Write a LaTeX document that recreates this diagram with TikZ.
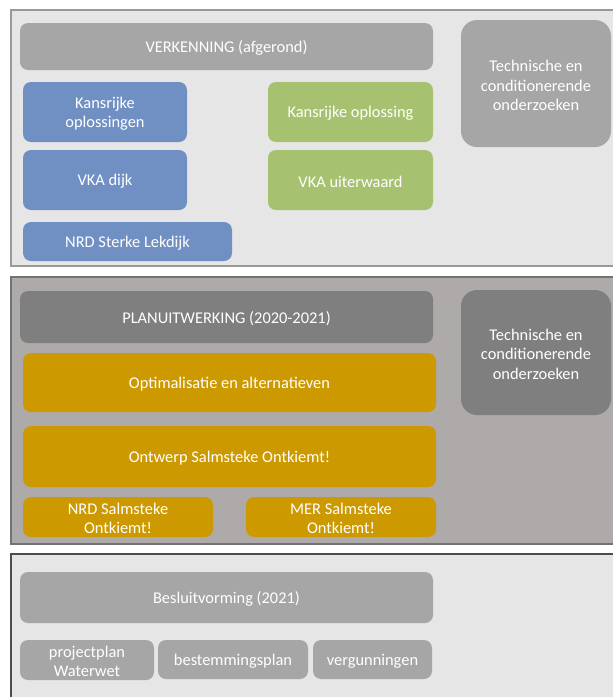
\documentclass[tikz,border=0pt]{standalone}
\usepackage{fontspec}
\setmainfont{Carlito}
\definecolor{panelA}{HTML}{E6E6E6}
\definecolor{panelB}{HTML}{AEAAAA}
\definecolor{greyA}{HTML}{A6A6A6}
\definecolor{greyB}{HTML}{7F7F7F}
\definecolor{blueBox}{HTML}{7090C4}
\definecolor{greenBox}{HTML}{A6C270}
\definecolor{goldBox}{HTML}{CC9900}
\begin{document}
\begin{tikzpicture}[x=1pt,y=-1pt,
  panel/.style={line width=1.2pt},
  box/.style={rounded corners=8pt, draw=none},
  lbl/.style={text=white, font=\fontsize{16.4}{19.5}\selectfont, align=center, inner sep=0pt, yshift=-1.5pt}]
\useasboundingbox (0,0) rectangle (613,697);
\fill[white] (0,0) rectangle (613,697);
% panels
\draw[panel, fill=panelA, draw=black!40] (11,10) rectangle (614,266);
\draw[panel, fill=panelB, draw=black!55] (11,277) rectangle (614,544);
\draw[panel, fill=panelA, draw=black!70] (11,554) rectangle (614,698);
% panel 1
\fill[box, greyA] (20,23) rectangle (433,70);
\node[lbl] (verk) at (226.5,46.5) {VERKENNING (afgerond)};
\fill[rounded corners=16pt, greyA] (461,20) rectangle (611,147);
\node[lbl] (tech1) at (536,84) {Technische en\\conditionerende\\onderzoeken};
\fill[box, blueBox] (23,82) rectangle (187,142);
\node[lbl] (kans1) at (105,112) {Kansrijke\\oplossingen};
\fill[box, blueBox] (23,150) rectangle (187,210);
\node[lbl] (vkad) at (105,180) {VKA dijk};
\fill[box, blueBox] (23,222) rectangle (232,261);
\node[lbl] (nrd1) at (127.5,241.5) {NRD Sterke Lekdijk};
\fill[box, greenBox] (268,82) rectangle (433,142);
\node[lbl] (kans2) at (350.5,112) {Kansrijke oplossing};
\fill[box, greenBox] (268,150) rectangle (433,210);
\node[lbl] (vkau) at (350.5,180) {VKA uiterwaard};
% panel 2
\fill[box, greyB] (20,291) rectangle (433,343);
\node[lbl] (plan) at (226.5,317) {PLANUITWERKING (2020-2021)};
\fill[rounded corners=16pt, greyB] (461,290) rectangle (611,415);
\node[lbl] (tech2) at (536,352.5) {Technische en\\conditionerende\\onderzoeken};
\fill[box, goldBox] (23,353) rectangle (436,412);
\node[lbl] (opt) at (229.5,382.5) {Optimalisatie en alternatieven};
\fill[box, goldBox] (23,426) rectangle (436,487);
\node[lbl] (ontw) at (229.5,456.5) {Ontwerp Salmsteke Ontkiemt!};
\fill[box, goldBox] (23,497) rectangle (213,537);
\node[lbl] (nrd2) at (118,517) {NRD Salmsteke\\Ontkiemt!};
\fill[box, goldBox] (246,497) rectangle (436,537);
\node[lbl] (mer) at (341,517) {MER Salmsteke\\Ontkiemt!};
% panel 3
\fill[box, greyA] (20,572) rectangle (433,623);
\node[lbl] (besl) at (226.5,597.5) {Besluitvorming (2021)};
\fill[box, greyA] (20,640) rectangle (154,680);
\node[lbl] (proj) at (87,660) {projectplan\\Waterwet};
\fill[box, greyA] (158,640) rectangle (308,679);
\node[lbl] (best) at (233,659.5) {bestemmingsplan};
\fill[box, greyA] (313,640) rectangle (432,679);
\node[lbl] (verg) at (372.5,659.5) {vergunningen};
\end{tikzpicture}
\end{document}
